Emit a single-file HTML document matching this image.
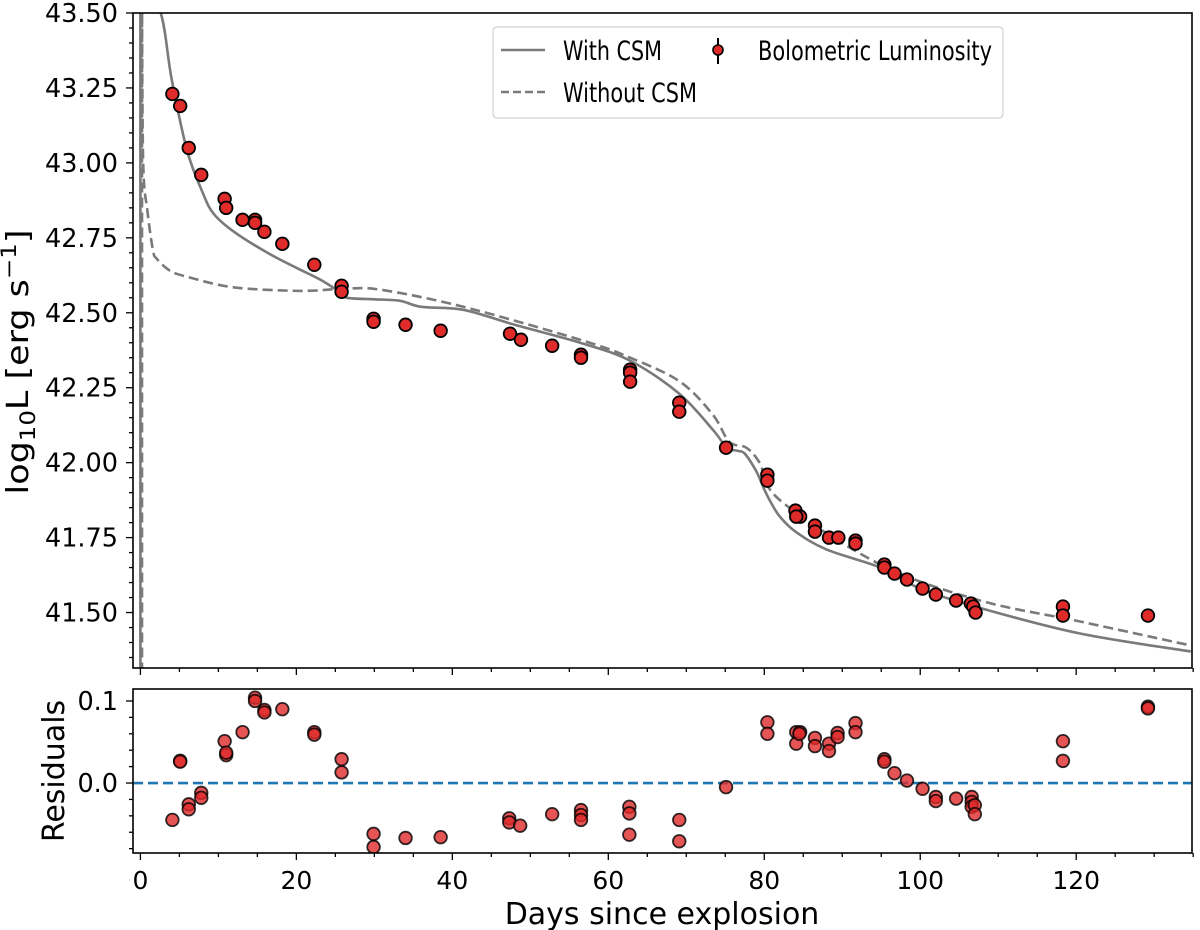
<!DOCTYPE html>
<html><head><meta charset="utf-8"><style>
html,body{margin:0;padding:0;background:#fff;}
svg{display:block;font-family:"DejaVu Sans","Liberation Sans",sans-serif;}
</style></head><body>
<svg id="chart" width="1200" height="930" viewBox="0 0 1200 930" xmlns="http://www.w3.org/2000/svg">
<g id="main"></g>
<g id="resid"></g>
</svg>
<script>
// ---- data ----
const obsDays = [4.1,5.1,6.2,7.8,10.8,11.0,13.1,14.7,14.7,15.9,18.2,22.3,25.8,25.8,29.9,29.9,34.0,38.5,47.4,48.8,52.8,56.5,56.5,62.8,62.8,62.8,69.1,69.1,75.1,80.4,80.4,84.0,84.6,84.1,86.5,86.5,88.3,89.5,91.7,91.7,95.4,95.4,96.7,98.3,100.3,102.0,104.6,106.5,106.8,107.1,118.3,118.3,129.2];
const obsLum = [43.23,43.19,43.05,42.96,42.88,42.85,42.81,42.81,42.80,42.77,42.73,42.66,42.59,42.57,42.48,42.47,42.46,42.44,42.43,42.41,42.39,42.36,42.35,42.31,42.30,42.27,42.20,42.17,42.05,41.96,41.94,41.84,41.82,41.82,41.79,41.77,41.75,41.75,41.74,41.73,41.66,41.65,41.63,41.61,41.58,41.56,41.54,41.53,41.52,41.50,41.52,41.49,41.49];
const csmDays = [0,0,2.6,4,6,8,9.4,12,16.3,20,23.1,25.5,26.5,30,33.3,36,41.4,48,56.4,62.8,69.1,73.4,75.2,76.5,77.5,79,80,81,82,84,88,94.9,100,107.7,120.5,134.7];
const csmLum = [41.2,43.6,43.5,43.28,43.04,42.90,42.83,42.77,42.70,42.65,42.61,42.57,42.55,42.545,42.54,42.52,42.51,42.46,42.40,42.34,42.23,42.11,42.05,42.04,42.03,41.97,41.91,41.86,41.82,41.77,41.71,41.65,41.58,41.515,41.43,41.37];
const noCsmDays = [0.2,0.2,0.35,0.9,1.6,2.1,3.8,6,11.9,20.5,26,30.8,41.4,56.4,62.8,69.2,73.4,75.5,77.7,79.4,82,94.9,107.7,120.5,134.7];
const noCsmLum = [41.2,43.6,43.01,42.84,42.71,42.68,42.64,42.62,42.585,42.573,42.58,42.577,42.52,42.41,42.35,42.27,42.16,42.07,42.05,42.00,41.875,41.66,41.54,41.47,41.39];
const resDays = [4.1,5.1,5.1,6.2,6.2,7.8,7.8,10.8,11.0,11.0,13.1,14.7,14.7,15.9,15.9,18.2,22.3,22.3,25.8,25.8,29.9,29.9,34.0,38.5,47.3,47.3,48.7,52.8,56.5,56.5,56.5,62.7,62.7,62.7,69.1,69.1,75.1,80.4,80.4,84.1,84.6,84.1,84.5,86.5,86.5,88.3,88.3,89.4,89.4,91.7,91.7,95.4,95.4,96.7,98.3,100.3,102.0,102.0,104.6,106.6,106.6,106.6,107.0,107.0,118.3,118.3,129.2,129.2];
const resVals = [-0.045,0.027,0.026,-0.026,-0.032,-0.012,-0.018,0.051,0.034,0.037,0.062,0.104,0.100,0.089,0.086,0.090,0.062,0.059,0.029,0.013,-0.062,-0.078,-0.067,-0.066,-0.043,-0.048,-0.052,-0.038,-0.033,-0.039,-0.045,-0.029,-0.037,-0.063,-0.045,-0.071,-0.005,0.074,0.060,0.062,0.062,0.048,0.060,0.055,0.045,0.048,0.039,0.061,0.056,0.073,0.062,0.029,0.026,0.012,0.003,-0.007,-0.017,-0.022,-0.019,-0.017,-0.023,-0.029,-0.027,-0.038,0.051,0.027,0.093,0.091];
const xTicks = [0,20,40,60,80,100,120];
const yTicks = [41.50,41.75,42.00,42.25,42.50,42.75,43.00,43.25,43.50];
const rTicks = [0.0,0.1];

// ---- geometry ----
const L=133,R=1192,MT=13,MB=668,RT=689,RB=853;
const X0=-0.95,X1=134.85;
const sx=d=>L+(d-X0)/(X1-X0)*(R-L);
const Y0=41.315,Y1=43.5;
const sy=v=>MT+(Y1-v)/(Y1-Y0)*(MB-MT);
const R0=-0.0853,R1=0.1146;
const sr=v=>RT+(R1-v)/(R1-R0)*(RB-RT);
const NS="http://www.w3.org/2000/svg";
function mk(tag,attrs,parent){const e=document.createElementNS(NS,tag);for(const k in attrs)e.setAttribute(k,attrs[k]);parent.appendChild(e);return e;}
const svg=document.getElementById('chart');
const gm=document.getElementById('main'), gr=document.getElementById('resid');

const defs=mk('defs',{},svg);
const c1=mk('clipPath',{id:'cm'},defs); mk('rect',{x:L,y:MT,width:R-L,height:MB-MT},c1);
const c2=mk('clipPath',{id:'cr'},defs); mk('rect',{x:L,y:RT,width:R-L,height:RB-RT},c2);

function curve(days,lums,dash,name){
  const P=days.map((t,i)=>[sx(t),sy(lums[i])]);
  let d='M'+P[0][0].toFixed(1)+','+P[0][1].toFixed(1)+'L'+P[1][0].toFixed(1)+','+P[1][1].toFixed(1);
  for(let i=1;i<P.length-1;i++){
    const p0=P[Math.max(i-1,1)],p1=P[i],p2=P[i+1],p3=P[Math.min(i+2,P.length-1)];
    const k=(i===1)?0:1/6;
    const c1x=p1[0]+(p2[0]-p0[0])*k,c1y=p1[1]+(p2[1]-p0[1])*k;
    const c2x=p2[0]-(p3[0]-p1[0])/6,c2y=p2[1]-(p3[1]-p1[1])/6;
    d+='C'+c1x.toFixed(1)+','+c1y.toFixed(1)+' '+c2x.toFixed(1)+','+c2y.toFixed(1)+' '+p2[0].toFixed(1)+','+p2[1].toFixed(1);
  }
  const p=mk('path',{d:d,fill:'none',stroke:'#7a7a7a','stroke-width':2.6,'clip-path':'url(#cm)','stroke-linejoin':'round'},gm);
  if(dash)p.setAttribute('stroke-dasharray','10,5');
  
  
}
curve(csmDays,csmLum,false,'with-csm-line');
curve(noCsmDays,noCsmLum,true,'without-csm-line');

obsDays.forEach((t,i)=>{
  const c=mk('circle',{cx:sx(t),cy:sy(obsLum[i]),r:6.3,fill:'#e02b2b',stroke:'#000','stroke-width':1.8,'clip-path':'url(#cm)'},gm);
  
  
});

const zl=mk('line',{x1:L,x2:R,y1:sr(0),y2:sr(0),stroke:'#1f77b4','stroke-width':2.6,'stroke-dasharray':'10,5'},gr);


resDays.forEach((t,i)=>{
  const c=mk('circle',{cx:sx(t),cy:sr(resVals[i]),r:6.3,fill:'rgba(224,43,43,0.8)',stroke:'rgba(0,0,0,0.8)','stroke-width':1.8,'clip-path':'url(#cr)'},gr);
  
  
});

const f1=mk('rect',{x:L,y:MT,width:R-L,height:MB-MT,fill:'none',stroke:'#000','stroke-width':1.6},gm);


const f2=mk('rect',{x:L,y:RT,width:R-L,height:RB-RT,fill:'none',stroke:'#000','stroke-width':1.6},gr);



for(let d=0;d<=135;d+=5){
  const major=d%20===0;const len=major?7:4;
  mk('line',{x1:sx(d),x2:sx(d),y1:MB,y2:MB+len,stroke:'#000','stroke-width':1.3},gm);
  mk('line',{x1:sx(d),x2:sx(d),y1:RB,y2:RB+len,stroke:'#000','stroke-width':1.3},gr);
}
xTicks.forEach(v=>{
  const t=mk('text',{x:sx(v),y:889,'text-anchor':'middle','font-size':25,fill:'#000'},gr);
  t.textContent=v;
  
  
});
for(let k=0;k<=44;k++){
  const v=41.35+k*0.05; if(v>43.501)break;
  const major=Math.abs((v-41.5)/0.25-Math.round((v-41.5)/0.25))<1e-6;
  mk('line',{x1:L,x2:L-(major?7:4),y1:sy(v),y2:sy(v),stroke:'#000','stroke-width':1.3},gm);
}
yTicks.forEach(v=>{
  const t=mk('text',{x:118,y:sy(v)+9,'text-anchor':'end','font-size':25.5,fill:'#000'},gm);
  t.textContent=v.toFixed(2);
  
  
});
for(let k=-4;k<=5;k++){
  const v=k*0.02; const major=(k%5===0);
  mk('line',{x1:L,x2:L-(major?7:4),y1:sr(v),y2:sr(v),stroke:'#000','stroke-width':1.3},gr);
}
rTicks.forEach(v=>{
  const t=mk('text',{x:118,y:sr(v)+9,'text-anchor':'end','font-size':25.5,fill:'#000'},gr);
  t.textContent=v.toFixed(1);
  
  
});
</script>
<div style="position:absolute;left:0;top:0;width:1200px;height:930px;pointer-events:none;">
<svg width="1200" height="930" style="font-family:'DejaVu Sans','Liberation Sans',sans-serif;">
  <text transform="translate(28,362) rotate(-90)" text-anchor="middle" font-size="30" textLength="265" lengthAdjust="spacingAndGlyphs">log<tspan font-size="21" dy="7">10</tspan><tspan dy="-7">L [erg s</tspan><tspan font-size="21" dy="-12">−1</tspan><tspan dy="12">]</tspan></text>
  <text transform="translate(64,771) rotate(-90)" text-anchor="middle" font-size="30">Residuals</text>
  <text x="662" y="924" text-anchor="middle" font-size="30">Days since explosion</text>
  <g>
    <rect x="493" y="27" width="510" height="91" rx="4" fill="rgba(255,255,255,0.8)" stroke="#d0d0d0" stroke-width="1.2"/>
    <line x1="501" y1="50" x2="545" y2="50" stroke="#7a7a7a" stroke-width="2.6"/>
    <text x="563" y="60" font-size="27" textLength="99" lengthAdjust="spacingAndGlyphs">With CSM</text>
    <line x1="501" y1="92" x2="545" y2="92" stroke="#7a7a7a" stroke-width="2.6" stroke-dasharray="8,4"/>
    <text x="563" y="102" font-size="27" textLength="134" lengthAdjust="spacingAndGlyphs">Without CSM</text>
    <line x1="718" y1="38" x2="718" y2="64" stroke="#000" stroke-width="2"/>
    <circle cx="718" cy="50" r="5" fill="#e02b2b" stroke="#000" stroke-width="1.6"/>
    <text x="758" y="60" font-size="27" textLength="234" lengthAdjust="spacingAndGlyphs">Bolometric Luminosity</text>
  </g>
</svg>
</div>
</body></html>
